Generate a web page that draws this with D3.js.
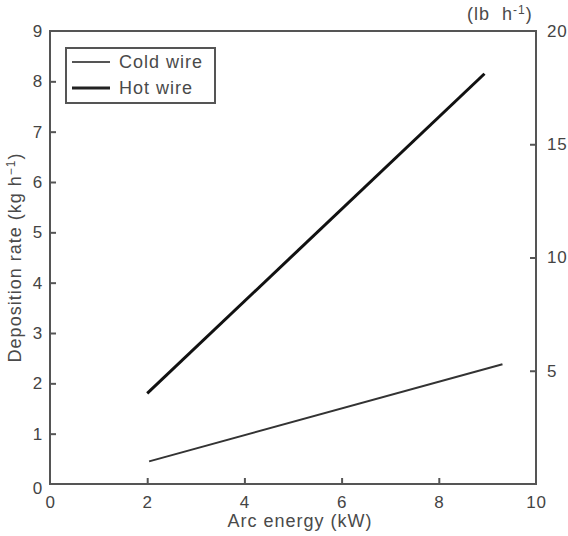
<!DOCTYPE html>
<html>
<head>
<meta charset="utf-8">
<script src="https://d3js.org/d3.v7.min.js"></script>
<style>
    body { margin: 0; background: #fff; }
    svg { font-family: "Liberation Sans", Arial, sans-serif; }
    .axis path, .axis line { stroke: #555; stroke-width: 2px; }
    .axis text { fill: #444; font-size: 17px; letter-spacing: 0.8px; }
    .lbl { fill: #4a4a4a; font-size: 18px; letter-spacing: 1px; }
</style>
</head>
<body>
<svg id="chart" width="568" height="536"></svg>
<script>
    // data
    const series = ["Cold wire", "Hot wire"];
    const coldX = [2.04, 9.31];
    const coldY = [0.45, 2.38];
    const hotX = [2.0, 8.94];
    const hotY = [1.80, 8.15];
    const xTicks = [0, 2, 4, 6, 8, 10];
    const yTicks = [0, 1, 2, 3, 4, 5, 6, 7, 8, 9];
    const lbTicks = [5, 10, 15, 20];

    const svg = d3.select("#chart");
    const margin = { left: 50, top: 31, right: 32, bottom: 52 };
    const W = 568, H = 536;

    const x = d3.scaleLinear().domain([0, 10]).range([margin.left, W - margin.right]);
    const y = d3.scaleLinear().domain([0, 9]).range([H - margin.bottom, margin.top]);
    const yLb = d3.scaleLinear().domain([0, 20]).range([H - margin.bottom, margin.top]);

    // frame
    svg.append("rect")
        .attr("x", x(0)).attr("y", y(9))
        .attr("width", x(10) - x(0)).attr("height", y(0) - y(9))
        .attr("fill", "none").attr("stroke", "#555").attr("stroke-width", 2);

    // bottom axis, ticks pointing in
    const xa = svg.append("g").attr("class", "axis")
        .attr("transform", `translate(0,${y(0)})`)
        .call(d3.axisBottom(x).tickValues(xTicks).tickSize(-6).tickPadding(12));
    xa.select(".domain").remove();
    xa.selectAll(".tick line").filter(d => d === 0 || d === 10).remove();

    // left axis
    const ya = svg.append("g").attr("class", "axis")
        .attr("transform", `translate(${x(0)},0)`)
        .call(d3.axisLeft(y).tickValues(yTicks).tickSize(-6).tickPadding(7));
    ya.select(".domain").remove();
    ya.selectAll(".tick line").filter(d => d === 0 || d === 9).remove();
    ya.selectAll(".tick text").attr("dy", d => d === 0 ? "0.55em" : "0.32em");

    // right axis in lb/h
    const ra = svg.append("g").attr("class", "axis")
        .attr("transform", `translate(${x(10)},0)`)
        .call(d3.axisRight(yLb).tickValues(lbTicks).tickSize(-6).tickPadding(11));
    ra.select(".domain").remove();
    ra.selectAll(".tick line").filter(d => d === 20).remove();

    // lines
    const line = d3.line().x(d => x(d[0])).y(d => y(d[1]));
    svg.append("path")
        .datum(d3.zip(coldX, coldY))
        .attr("d", line).attr("fill", "none")
        .attr("stroke", "#333").attr("stroke-width", 2);
    svg.append("path")
        .datum(d3.zip(hotX, hotY))
        .attr("d", line).attr("fill", "none")
        .attr("stroke", "#111").attr("stroke-width", 3);

    // legend
    const lg = svg.append("g");
    lg.append("rect")
        .attr("x", 66).attr("y", 48).attr("width", 149).attr("height", 55)
        .attr("fill", "#fff").attr("stroke", "#555").attr("stroke-width", 2);
    series.forEach((s, i) => {
        const ly = 62 + i * 26;
        lg.append("line")
            .attr("x1", 72).attr("x2", 110).attr("y1", ly).attr("y2", ly)
            .attr("stroke", i === 0 ? "#555" : "#222").attr("stroke-width", i === 0 ? 2 : 3);
        lg.append("text").attr("class", "lbl")
            .attr("x", 119).attr("y", ly).attr("dy", "0.35em")
            .text(s);
    });

    // axis titles
    svg.append("text").attr("class", "lbl")
        .attr("x", 300).attr("y", 527)
        .attr("text-anchor", "middle")
        .text("Arc energy (kW)");

    const yt = svg.append("text").attr("class", "lbl")
        .attr("transform", `translate(21,${(y(0) + y(9)) / 2}) rotate(-90)`)
        .attr("text-anchor", "middle");
    yt.append("tspan").text("Deposition rate (kg h");
    yt.append("tspan").attr("dy", -6).attr("font-size", 12).text("−1");
    yt.append("tspan").attr("dy", 6).text(")");

    const rt = svg.append("text").attr("class", "lbl")
        .attr("x", 467).attr("y", 20);
    rt.append("tspan").text("(lb");
    rt.append("tspan").attr("dx", 12).text("h");
    rt.append("tspan").attr("dy", -6).attr("font-size", 12).text("-1");
    rt.append("tspan").attr("dy", 6).text(")");
</script>
</body>
</html>
